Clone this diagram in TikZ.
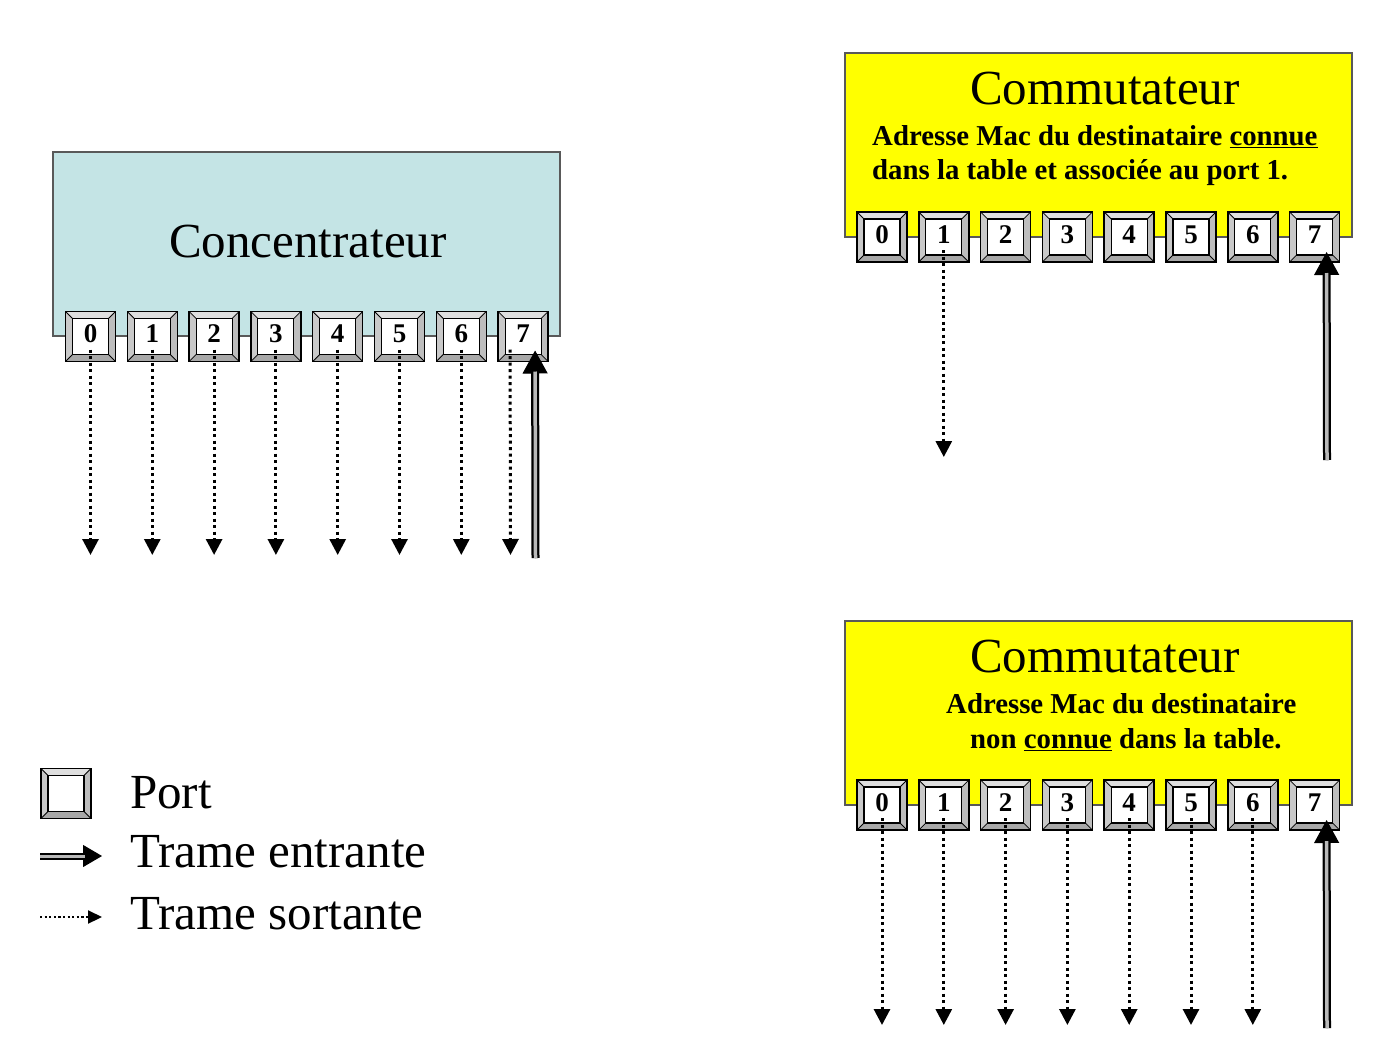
\documentclass[tikz,border=0pt]{standalone}
\usepackage{fontspec}
\setmainfont{Liberation Serif}
\usetikzlibrary{arrows.meta,calc}
\definecolor{hubcyan}{HTML}{C4E4E5}
\definecolor{swyellow}{HTML}{FFFF00}
\newcommand\inarr[2]{\draw[inhead] (#1) -- (#2); \draw[inshaft] (#1) -- (#2);}
% port bevel drawn under the port node
\newcommand\portbevel[2]{%
  \begin{scope}[shift={(#1,#2)}, x=1pt, y=1pt]
    \fill[white] (-25,-25) rectangle (25,25);
    \fill[gray!25] (-25,25) -- (25,25) -- (18,18) -- (-18,18) -- cycle;
    \fill[gray!42] (-25,25) -- (-18,18) -- (-18,-18) -- (-25,-25) -- cycle;
    \fill[gray!52] (25,25) -- (25,-25) -- (18,-18) -- (18,18) -- cycle;
    \fill[gray!68] (-25,-25) -- (25,-25) -- (18,-18) -- (-18,-18) -- cycle;
    \draw[line width=0.8pt] (-25,25) -- (-18,18) (25,25) -- (18,18) (25,-25) -- (18,-18) (-25,-25) -- (-18,-18);
    \draw[line width=1.1pt, fill=white] (-18,-18) rectangle (18,18);
  \end{scope}}
\begin{document}
\begin{tikzpicture}[x=1pt,y=-1pt,
  devbox/.style={draw=black!65, line width=1.6pt, minimum width=507pt, minimum height=184pt, inner sep=0pt},
  titletext/.style={font=\fontsize{49}{49}\selectfont, inner sep=0pt, anchor=base},
  boldtext/.style={font=\fontsize{28.8}{28.8}\selectfont\bfseries, inner sep=0pt, anchor=base west},
  legtext/.style={font=\fontsize{49}{49}\selectfont, inner sep=0pt, anchor=base west},
  port/.style={draw=black, line width=1.5pt, minimum width=50pt, minimum height=50pt,
    inner sep=0pt, text height=19pt, text depth=7pt, font=\fontsize{27}{27}\selectfont\bfseries},
  outarrow/.style={line width=3pt, dash pattern=on 3pt off 3.5pt, -{Triangle[width=16pt,length=16pt]}},
  legout/.style={line width=2.2pt, dash pattern=on 2.2pt off 2.4pt, -{Triangle[width=13pt,length=14pt]}},
  inhead/.style={line width=1pt, -{Triangle[width=25pt,length=23pt]}},
  inshaft/.style={draw=black, line width=8pt, shorten >=21pt,
    postaction={draw=gray!55, line width=3.5pt, shorten >=21pt}}
]
\fill[white] (0,0) rectangle (1390,1041);
\useasboundingbox (0,0) rectangle (1390,1041);

% ---------- Concentrateur ----------
\node[devbox, fill=hubcyan] (hub) at (306.5,244) {};
\node[titletext] (hubtitle) at (308,257) {Concentrateur};
\foreach \i in {0,...,7} {
  \portbevel{90.5+61.8*\i}{336.5}
  \node[port] (h\i) at ({90.5+61.8*\i},336.5) {\i};
}
\foreach \i in {0,...,6} {
  \coordinate (he\i) at ({90.5+61.8*\i},555);
  \draw[outarrow, shorten <=13pt] (h\i.center) -- (he\i);
}
\coordinate (he7) at (510.5,555);
\draw[outarrow] ([xshift=-13pt,yshift=-13pt]h7.center) -- (he7);
\coordinate (hi7) at (535.5,558);
\inarr{hi7}{[xshift=12pt,yshift=-14pt]h7.center}

% ---------- Commutateur (connue) ----------
\node[devbox, fill=swyellow] (sw1) at (1098.5,145) {};
\node[titletext] (sw1title) at (1105,104) {Commutateur};
\node[boldtext] (sw1l1) at (872,145) {Adresse Mac du destinataire \underline{connue}};
\node[boldtext] (sw1l2) at (872,179) {dans la table et associée au port 1.};
\foreach \i in {0,...,7} {
  \portbevel{882+61.8*\i}{237}
  \node[port] (s\i) at ({882+61.8*\i},237) {\i};
}
\coordinate (se1) at (943.8,457);
\draw[outarrow, shorten <=13pt] (s1.center) -- (se1);
\coordinate (si7) at (1327,460);
\inarr{si7}{[xshift=12pt,yshift=-15pt]s7.center}

% ---------- Commutateur (non connue) ----------
\node[devbox, fill=swyellow] (sw2) at (1098.5,713) {};
\node[titletext] (sw2title) at (1105,672) {Commutateur};
\node[boldtext] (sw2l1) at (946,713) {Adresse Mac du destinataire};
\node[boldtext] (sw2l2) at (970,748) {non \underline{connue} dans la table.};
\foreach \i in {0,...,7} {
  \portbevel{882+61.8*\i}{805}
  \node[port] (t\i) at ({882+61.8*\i},805) {\i};
}
\foreach \i in {0,...,6} {
  \coordinate (te\i) at ({882+61.8*\i},1025);
  \draw[outarrow, shorten <=13pt] (t\i.center) -- (te\i);
}
\coordinate (ti7) at (1327,1028);
\inarr{ti7}{[xshift=12pt,yshift=-15pt]t7.center}

% ---------- Legend ----------
\portbevel{66}{793.5}
\node[port] (lp) at (66,793.5) {};
\node[legtext] (lpt) at (130,808) {Port};
\coordinate (le1) at (40,856);
\coordinate (le2) at (102,856);
\draw[line width=1pt, -{Triangle[width=22pt,length=19pt]}] (le1) -- (le2);
\draw[draw=black, line width=7pt, shorten >=17pt, postaction={draw=gray!55, line width=3pt, shorten >=17pt}] (le1) -- (le2);
\node[legtext] (let) at (130,867) {Trame entrante};
\coordinate (ls1) at (40,917);
\coordinate (ls2) at (102,917);
\draw[legout] (ls1) -- (ls2);
\node[legtext] (lst) at (130,929) {Trame sortante};
\end{tikzpicture}
\end{document}
